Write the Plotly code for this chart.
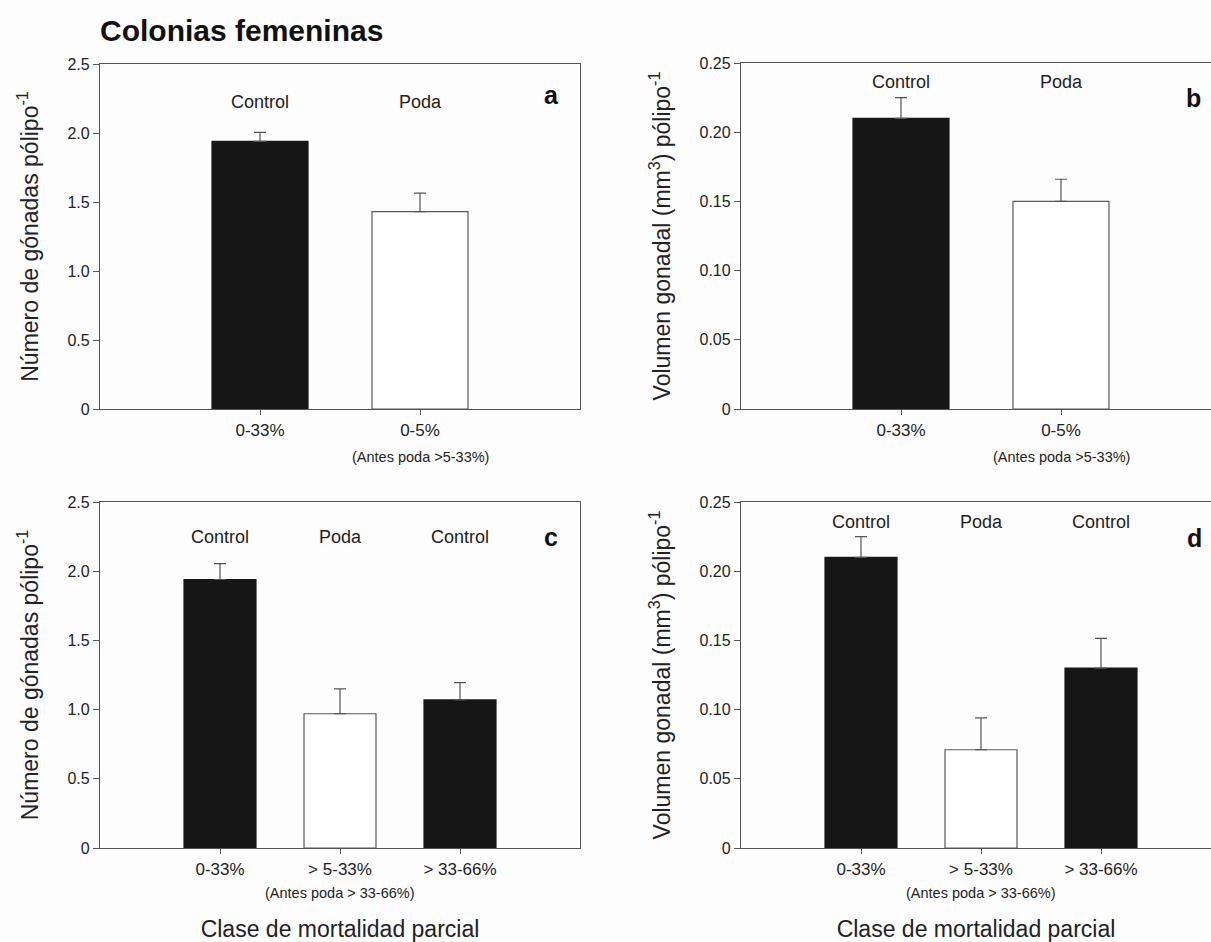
import plotly.graph_objects as go

# ---------------- data ----------------
cats_top = ["0-33%", "0-5%"]
groups_top = ["Control", "Poda"]
a_vals = [1.94, 1.43]
a_err = [0.065, 0.135]
b_vals = [0.21, 0.15]
b_err = [0.015, 0.016]

cats_bot = ["0-33%", "> 5-33%", "> 33-66%"]
groups_bot = ["Control", "Poda", "Control"]
c_vals = [1.94, 0.97, 1.07]
c_err = [0.115, 0.18, 0.125]
d_vals = [0.21, 0.071, 0.130]
d_err = [0.015, 0.023, 0.0215]

num_ticks = [0, 0.5, 1.0, 1.5, 2.0, 2.5]
num_ticktext = ["0", "0.5", "1.0", "1.5", "2.0", "2.5"]
vol_ticks = [0, 0.05, 0.10, 0.15, 0.20, 0.25]
vol_ticktext = ["0", "0.05", "0.10", "0.15", "0.20", "0.25"]

sub_top = "(Antes poda >5-33%)"
sub_bot = "(Antes poda > 33-66%)"
panel_letters = ["a", "b", "c", "d"]
title_txt = "Colonias femeninas"
ytitle_num = "Número de gónadas pólipo<sup>-1</sup>"
ytitle_vol = "Volumen gonadal (mm<sup>3</sup>) pólipo<sup>-1</sup>"
xtitle = "Clase de mortalidad parcial"

# ---------------- style ----------------
W, H = 1211, 942
FONT = "Liberation Sans, Arial, Helvetica, sans-serif"
AX = "#555555"
TXT = "#222222"
BLACK = "#161616"
FILL = {"Control": BLACK, "Poda": "#ffffff"}
EDGE = {"Control": "#1a1a1a", "Poda": "#5a5a5a"}

def px_x(p):
    return p / W

def px_y(p):
    return 1 - p / H

fig = go.Figure()

panels = [
    # (axis suffix, cats, groups, vals, errs, x-domain px, y-domain px, x range, ytick, ytext, yrange)
    ("", cats_top, groups_top, a_vals, a_err, (100, 580), (64, 409), [-1, 2], num_ticks, num_ticktext, [0, 2.5]),
    ("2", cats_top, groups_top, b_vals, b_err, (741, 1211), (63, 409), [-1, -1 + 3 * 470 / 480], vol_ticks, vol_ticktext, [0, 0.25]),
    ("3", cats_bot, groups_bot, c_vals, c_err, (100, 580), (502, 848), [-1, 3], num_ticks, num_ticktext, [0, 2.5]),
    ("4", cats_bot, groups_bot, d_vals, d_err, (741, 1211), (502, 848), [-1, -1 + 4 * 470 / 480], vol_ticks, vol_ticktext, [0, 0.25]),
]

layout_axes = {}
annotations = []
for k, (sfx, cats, groups, vals, errs, xd, yd, xr, yt, ytt, yr) in enumerate(panels):
    xa = "x" + sfx
    ya = "y" + sfx
    fig.add_trace(go.Bar(
        x=cats, y=vals,
        xaxis=xa, yaxis=ya,
        width=0.6,
        marker=dict(color=[FILL[g] for g in groups],
                    line=dict(color=[EDGE[g] for g in groups], width=1.2)),
        error_y=dict(type="data", symmetric=False, array=errs,
                     arrayminus=[0] * len(errs), color=AX, thickness=1.2, width=6),
        showlegend=False,
        hoverinfo="x+y",
    ))
    full_box = xd[1] < W
    bottom = k >= 2
    layout_axes["xaxis" + sfx] = dict(
        domain=[px_x(xd[0]), px_x(xd[1])],
        anchor=ya,
        type="category",
        range=xr,
        automargin=False,
        showline=True, linecolor=AX, linewidth=1.3, mirror=True,
        ticks="outside", ticklen=5, tickwidth=1.2, tickcolor=AX,
        tickfont=dict(family=FONT, size=17, color=TXT),
        showgrid=False, zeroline=False, fixedrange=True,
        title=dict(text=xtitle if bottom else "",
                   font=dict(family=FONT, size=23, color=TXT),
                   standoff=50),
    )
    layout_axes["yaxis" + sfx] = dict(
        domain=[px_y(yd[1]), px_y(yd[0])],
        anchor=xa,
        range=yr,
        automargin=False,
        tickmode="array", tickvals=yt, ticktext=ytt,
        showline=True, linecolor=AX, linewidth=1.3, mirror=full_box,
        ticks="outside", ticklen=6, tickwidth=1.2, tickcolor=AX,
        tickfont=dict(family=FONT, size=16, color=TXT),
        showgrid=False, zeroline=False, fixedrange=True,
        title=dict(text=ytitle_num if k in (0, 2) else ytitle_vol,
                   font=dict(family=FONT, size=23, color=TXT),
                   standoff=22),
    )
    # group labels above bars
    ytop = yr[1]
    lab_frac = {0: 0.89, 1: 0.945, 2: 0.90, 3: 0.942}[k]
    for i, g in enumerate(groups):
        annotations.append(dict(
            x=i, y=ytop * lab_frac, xref=xa, yref=ya,
            text=g, showarrow=False,
            font=dict(family=FONT, size=18, color=TXT),
        ))
    # panel letter
    let_x = {0: 1.82, 1: 1.83, 2: 2.76, 3: 2.775}[k]
    let_frac = {0: 0.91, 1: 0.90, 2: 0.90, 3: 0.897}[k]
    annotations.append(dict(
        x=let_x, y=ytop * let_frac, xref=xa, yref=ya,
        text="<b>%s</b>" % panel_letters[k], showarrow=False,
        font=dict(family=FONT, size=25, color="#111111"),
    ))
    # secondary note under the axis
    sub_txt = sub_top if not bottom else sub_bot
    sub_y = 457 if not bottom else 893
    annotations.append(dict(
        x=1, y=px_y(sub_y), xref=xa, yref="paper",
        xanchor="center", yanchor="middle",
        text=sub_txt, showarrow=False,
        font=dict(family=FONT, size=14.5, color=TXT),
    ))

fig.update_layout(
    width=W, height=H,
    margin=dict(l=0, r=0, t=0, b=0, pad=0),
    paper_bgcolor="#fdfdfd",
    plot_bgcolor="#fdfdfd",
    font=dict(family=FONT, color=TXT),
    title=dict(text="<b>%s</b>" % title_txt, x=px_x(100), xanchor="left",
               y=px_y(30), yanchor="middle",
               font=dict(family=FONT, size=30, color="#111111")),
    annotations=annotations,
    bargap=0.4,
    **layout_axes,
)

fig.write_html("out.html")
